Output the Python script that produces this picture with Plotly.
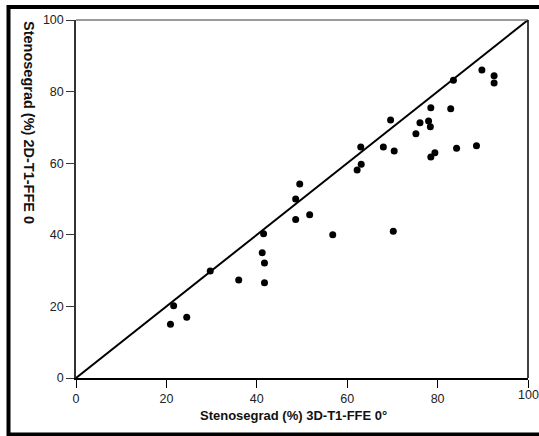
import plotly.graph_objects as go

# Data
x_3d = [20.9, 21.6, 24.5, 29.7, 36.0, 41.2, 41.5, 41.7, 41.7, 48.6, 48.6, 49.5,
        51.7, 56.8, 62.2, 63.1, 63.0, 68.0, 69.6, 70.4, 70.2, 75.2, 76.1, 78.0,
        78.4, 78.5, 78.5, 79.4, 82.9, 83.5, 84.2, 88.6, 89.8, 92.5, 92.5]
y_2d = [15.0, 20.2, 17.0, 29.9, 27.4, 35.0, 40.3, 32.1, 26.6, 50.0, 44.3, 54.2,
        45.6, 40.0, 58.1, 59.7, 64.5, 64.5, 72.1, 63.4, 41.0, 68.2, 71.3, 71.8,
        70.2, 75.5, 61.7, 62.9, 75.2, 83.2, 64.2, 64.9, 86.0, 84.4, 82.4]
identity_line = [0, 100]
tick_vals = [0, 20, 40, 60, 80, 100]
x_tick_text = ["0", "20", "40", "60", "80", ""]  # last label drawn separately
x_last_label = "100"
x_title = "Stenosegrad (%) 3D-T1-FFE 0°"
y_title = "Stenosegrad (%) 2D-T1-FFE 0"

W, H = 539, 436
L, R, T, B = 76, 11, 20, 58
pw, ph = W - L - R, H - T - B

def px_x(p):
    return (p - L) / pw

def px_y(p):
    return (H - B - p) / ph

fig = go.Figure()
fig.add_trace(go.Scatter(x=identity_line, y=identity_line, mode="lines",
                         line=dict(color="black", width=2), hoverinfo="skip",
                         showlegend=False))
fig.add_trace(go.Scatter(x=x_3d, y=y_2d, mode="markers",
                         marker=dict(color="black", size=7, line=dict(width=0)),
                         showlegend=False))

font = "Liberation Sans, Arial, sans-serif"
fig.update_layout(
    width=W, height=H,
    margin=dict(l=L, r=R, t=T, b=B, autoexpand=False),
    paper_bgcolor="white", plot_bgcolor="white",
    font=dict(family=font, size=12, color="#222"),
    xaxis=dict(range=[0, 100], tickvals=tick_vals, ticktext=x_tick_text,
               ticks="outside", ticklen=8, automargin=False,
               tickcolor="black", tickwidth=1.2, showline=True, linecolor="black",
               linewidth=1.5, showgrid=False, zeroline=False,
               tickfont=dict(size=12.5, color="#222")),
    yaxis=dict(range=[0, 100], tickvals=tick_vals, ticks="outside", ticklen=8,
               automargin=False,
               tickcolor="#333", tickwidth=1.2, showline=True, linecolor="#333",
               linewidth=1.5, showgrid=False, zeroline=False,
               tickfont=dict(size=12.5, color="#222")),
    shapes=[
        dict(type="line", xref="paper", yref="paper", x0=0, x1=1, y0=1, y1=1,
             line=dict(color="#7a7a7a", width=1.5)),
        dict(type="line", xref="paper", yref="paper", x0=1, x1=1, y0=0, y1=1,
             line=dict(color="black", width=1.5)),
        dict(type="rect", xref="paper", yref="paper",
             x0=px_x(8.5), x1=px_x(542), y0=px_y(434.5), y1=px_y(7),
             line=dict(color="black", width=4), fillcolor="rgba(0,0,0,0)", layer="above"),
    ],
    annotations=[
        dict(text=x_last_label, xref="x", yref="paper", x=tick_vals[-1],
             y=px_y(395), xanchor="center", yanchor="middle", showarrow=False,
             font=dict(size=12.5, color="#222", family=font)),
        dict(text=f"<b>{x_title}</b>", xref="paper", yref="paper",
             x=px_x(293), y=px_y(415), xanchor="center", yanchor="middle",
             showarrow=False, font=dict(size=13, color="#111", family=font)),
        dict(text=f"<b>{y_title}</b>", xref="paper", yref="paper",
             x=px_x(29), y=px_y(122), xanchor="center", yanchor="middle",
             showarrow=False, textangle=90,
             font=dict(size=14.5, color="#111", family=font)),
    ],
)

fig.write_html("out.html")
